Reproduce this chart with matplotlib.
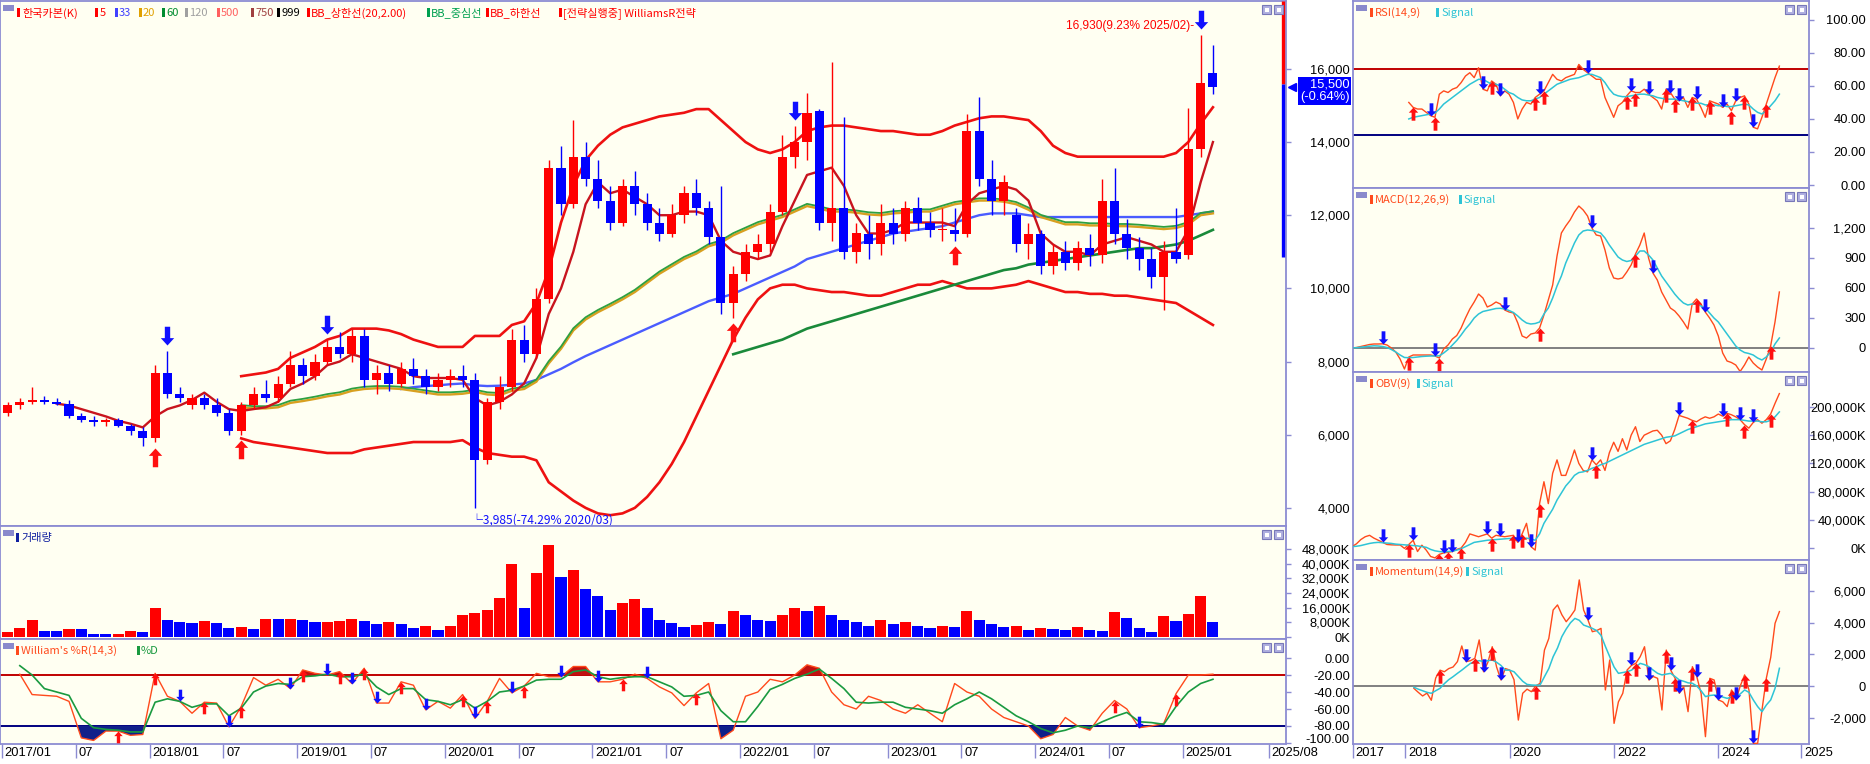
import matplotlib
matplotlib.use('Agg')
import matplotlib.pyplot as plt
import matplotlib.transforms as mtransforms
from matplotlib.patches import Rectangle
from matplotlib.path import Path
import numpy as np

# ---------------- data (monthly, first month 2017/01) ----------------
opens = [6600,6800,6900,6950,6900,6850,6500,6400,6350,6400,6250,6100,
         5900,7700,7100,6800,7000,6800,6600,6100,6800,7100,7000,7400,
         7900,7600,8000,8400,8200,8700,7500,7700,7400,7800,7600,7300,
         7500,7600,7500,5300,6900,7300,8600,8200,9700,13300,12300,13600,
         13000,12400,11800,12800,12300,11800,11500,12000,12600,12200,11400,9600,
         10400,11000,11200,12100,13600,14000,14850,11800,12200,11000,11500,11200,
         11800,11500,12200,11800,11600,11600,11500,14300,13000,12400,12000,11200,
         11500,10600,11000,10700,11100,10900,12400,11500,11100,10800,10300,11000,
         10900,13800,15900]
highs = [6900,7000,7300,7050,7000,6950,6600,6500,6450,6450,6300,6200,
         7900,8300,7300,7100,7100,7000,6700,6900,7300,7500,7600,8300,
         8100,8200,8600,8800,8900,8900,7900,7900,8000,8100,7800,7700,
         7800,7900,7700,7000,7600,8900,9000,10000,13500,13900,14600,14000,
         13500,12800,13000,13200,12600,12200,12300,12800,13000,12400,12800,10600,
         11200,11500,12300,14200,14450,15350,14900,16190,14690,11800,12000,12300,
         12200,12400,12500,12100,12200,12200,14770,15240,13500,13100,12200,11800,
         11600,11200,11300,11300,11500,13000,13300,11900,11400,11100,11300,12200,
         14940,16930,16650]
lows = [6500,6700,6850,6850,6800,6450,6350,6250,6250,6200,6000,5700,
        5800,7000,6900,6700,6700,6500,6000,6000,6700,6900,6900,7300,
        7400,7500,7900,8100,8000,7300,7100,7200,7300,7400,7100,7200,
        7300,7300,3985,5200,6700,7200,8000,8100,9600,12000,12200,12800,
        12200,11600,11700,12000,11600,11300,11400,11800,12000,11200,9300,9200,
        10200,10800,11000,12000,13300,13500,11600,11300,10800,10700,10800,10900,
        11200,11300,11600,11400,11300,11300,11400,12800,12000,12000,11000,10800,
        10400,10400,10500,10500,10600,10700,11200,10800,10500,10000,9400,10700,
        10800,13600,15300]
closes = [6800,6900,6950,6900,6850,6500,6400,6350,6400,6250,6100,5900,
          7700,7100,7000,7000,6800,6600,6100,6800,7100,7000,7400,7900,
          7600,8000,8400,8200,8700,7500,7700,7400,7800,7600,7300,7500,
          7600,7500,5300,6900,7300,8600,8200,9700,13300,12300,13600,13000,
          12400,11800,12800,12300,11800,11500,12000,12600,12200,11400,9600,10400,
          11000,11200,12100,13600,14000,14800,11800,12200,11000,11500,11200,11800,
          11500,12200,11800,11600,11600,11500,14300,13000,12400,12900,11200,11500,
          10600,11000,10700,11100,10900,12400,11500,11100,10800,10300,11000,10800,
          13800,15600,15500]
volume_k = [2900,5100,9450,3400,3270,4360,4300,1700,1600,1650,3450,2730,
            16000,9270,8180,7630,8720,7630,4900,5450,4360,9810,9700,9810,
            9500,8180,8300,8900,9810,8720,7090,8180,7000,4900,6000,3820,
            6000,12000,13100,14700,21300,39800,16000,35100,50200,32700,36500,26200,
            22400,14700,18500,20700,15800,9300,7600,5500,6500,8000,7000,14000,
            12000,9000,8500,12000,16000,14000,17000,12000,9000,8000,6000,9000,
            7000,8000,6000,5000,6000,5500,14000,9000,7000,5500,6000,4000,
            5000,4500,4000,5500,4000,3330,13630,10360,4910,2730,11450,8720,
            12540,22360,8180]

ma5_start = 4
ma5 = [6850,6800,6700,6600,6500,6380,6300,6200,6500,6700,
       6800,6950,7150,6900,6700,6650,6700,6750,6900,7250,
       7400,7600,7900,8000,8200,8100,8000,7900,7800,7600,
       7550,7550,7550,7500,7000,6800,6900,7100,7400,8100,
       9300,10000,11000,12300,12900,12600,12700,12500,12300,12000,
       12000,12100,12100,12000,11300,11000,10900,10800,10900,11700,
       12400,13100,13200,13300,12800,12000,11500,11500,11600,11800,
       11800,11800,11800,11700,12300,12600,12700,12800,12700,12400,
       11500,11200,11000,11000,10900,11200,11300,11400,11300,11200,
       11000,11000,11600,12900,14000]
bb_start = 19
bb_upper = [7600,7650,7700,7800,8100,8250,8400,8600,8700,8900,
            8900,8900,8850,8750,8600,8500,8400,8400,8400,8700,
            8700,8700,9000,9100,9600,
            10500,11800,12800,13500,13900,
            14200,14400,14500,14600,14700,
            14750,14800,14900,14900,14600,
            14300,14000,13800,13700,13800,
            14000,14300,14400,14450,14450,
            14400,14350,14300,14300,14250,
            14200,14200,14300,14450,14550,
            14650,14700,14700,14650,14600,
            14300,13900,13700,13600,13600,
            13600,13600,13600,13600,13600,
            13600,13700,14000,14500,14950]
bb_mid = [6750,6720,6720,6750,6870,6920,6980,7050,7100,7200,
          7250,7270,7270,7250,7200,7150,7100,7100,7120,7170,
          7100,7080,7200,7250,7450,7950,8350,8850,9150,9350,
          9520,9700,9900,10150,10400,10600,10800,10950,11150,11250,
          11450,11600,11750,11850,11950,12100,12250,12180,12100,12100,
          12070,12020,12000,12050,12070,12100,12100,12200,12300,12350,
          12400,12400,12370,12300,12150,11950,11850,11750,11750,11720,
          11720,11700,11700,11680,11650,11620,11650,11750,12000,12050]
bb_lower = [5900,5800,5750,5700,5650,5600,5550,5500,5500,5500,
            5600,5650,5700,5750,5800,5800,5800,5800,5850,5650,
            5500,5450,5400,5400,5300,4700,4450,4200,4000,3850,
            3800,3850,4000,4300,4700,5200,5800,6500,7200,7900,
            8600,9200,9700,10000,10100,10100,10000,9950,9900,9900,
            9850,9800,9800,9900,10000,10100,10100,10200,10100,10000,
            10000,10000,10050,10100,10200,10100,10000,9900,9900,9850,
            9850,9800,9800,9750,9700,9650,9600,9400,9200,9000]
ma33_start = 32
ma33 = [7250,7300,7330,7350,7380,7400,7350,7330,7340,7370,
        7400,7500,7650,7800,7980,8150,8300,8450,8600,8750,
        8900,9050,9200,9350,9500,9650,9750,9850,10000,10150,
        10300,10450,10600,10800,10900,11000,11100,11200,11300,11400,
        11500,11550,11600,11650,11700,11800,11900,12000,12050,12050,
        12050,12000,11950,11950,11950,11950,11950,11950,11950,11950,
        11950,11950,11950,11950,12000,12050,12100]
ma60_start = 59
ma60 = [8200,8300,8400,8500,8600,8750,8900,9000,9100,9200,
        9300,9400,9500,9600,9700,9800,9900,10000,10100,10200,
        10300,10400,10500,10550,10650,10700,10750,10800,10850,10900,
        10950,11000,11050,11100,11100,11150,11200,11300,11450,11600]

wr_start = 1
wr_r = [-19,-43,-44,-45,-51,-94,-97,-86,-86,-91,
        -90,-18,-45,-51,-65,-52,-53,-81,-57,-23,
        -32,-25,-36,-14,-18,-20,-16,-30,-12,-53,
        -53,-28,-32,-61,-51,-59,-43,-71,-51,-24,
        -41,-33,-18,-22,-22,-10,-10,-28,-28,-25,
        -19,-24,-34,-41,-56,-41,
        -30,-95,-85,-45,-40,-25,-28,-20,-8,-12,
        -40,-55,-60,-45,-50,-60,-65,-55,-65,-75,
        -30,-40,-45,-60,-70,-75,-80,-95,-90,-70,
        -80,-85,
        -65,-50,-60,-82,-80,-77,-42,-20,-20,-19]
wr_d = [-9,-20,-36,-40,-44,-71,-82,-84,-85,-87,
        -87,-52,-48,-51,-58,-54,-54,-68,-59,-40,
        -33,-30,-31,-22,-21,-19,-22,-22,-19,-34,
        -43,-36,-36,-49,-51,-55,-49,-59,-51,-40,
        -38,-33,-26,-25,-25,-16,-14,-22,-25,-23,
        -22,-22,-28,-34,-45,-44,
        -40,-62,-75,-75,-57,-37,-31,-24,-19,-13,
        -24,-36,-52,-53,-52,-52,-58,-60,-62,-65,
        -55,-48,-40,-48,-58,-68,-75,-83,-88,-85,
        -80,-82,
        -75,-69,-64,-75,-76,-78,-57,-40,-30,-25]

rsi_start = 13
rsi = [50,47,46,46,44,42,41,55,57,56,
       58,59,62,66,68,65,71,58,57,63,
       61,54,57,55,50,40,46,50,49,53,
       55,57,62,67,64,63,65,66,67,73,
       70,68,66,64,64,53,47,41,48,50,
       54,57,56,56,58,55,53,51,46,58,
       56,52,51,53,47,53,52,47,41,51,
       50,49,47,49,45,51,53,54,49,35,
       34,41,49,57,65,72]
rsi_sig = [40,41,41.5,42,42.5,43,43.5,46,49,51,
           53,55,57,59,61,62.5,64,64,62.5,61,
           61,60,58,56,55,53,51.5,51,51,52,
           53,55,57,59,61,62,63,64,64.5,65,
           66,67,67,66,65,62,58,55,54,53.5,
           53.5,54,54.5,55,55,54.5,54,53,52.5,52,
           52,52,51.5,51,50.5,50,49.5,49.5,48.5,48.5,
           48.5,48,48,47.5,47.5,48,48.5,49,48.5,46,
           44,43,45,48,51,55]

macd_start = 0
macd = [0,5,15,25,35,40,40,42,30,0,
        -40,-110,-210,-90,-70,-70,-70,-70,-70,-80,
        -100,-10,30,90,125,200,300,390,460,540,
        500,410,430,460,440,380,360,350,250,120,
        100,140,150,200,330,480,630,920,1150,1220,
        1280,1360,1420,1380,1320,1200,1130,1120,980,800,
        700,690,700,760,830,940,1030,1150,900,750,
        680,560,480,400,370,320,260,190,440,490,
        440,360,300,230,120,-50,-130,-145,-170,-235,
        -170,-90,-150,-190,-220,-110,20,260,560]
macd_sig = [0,3,8,13,18,22,20,15,5,-15,
            -40,-70,-95,-97,-95,-90,-85,-82,-80,-80,
            -78,-50,-15,30,75,130,190,240,300,340,
            365,375,385,395,397,390,375,355,320,280,
            250,240,245,260,340,400,500,620,720,850,
            950,1050,1130,1170,1180,1175,1165,1150,1100,1030,
            970,910,880,865,875,920,970,970,930,880,
            800,720,660,600,540,490,450,430,440,440,
            420,400,350,300,260,200,140,80,20,-20,
            -45,-55,-70,-100,-120,-90,-40,40,100]

obv_start = 0
obv_k = [2000,6000,12000,16000,18000,14000,11000,8000,5000,4500,
         4300,4300,-500,5000,11000,-5000,4000,-3000,-12000,-14000,
         -9000,-7000,-6000,-5000,-2000,0,8000,20000,18000,16000,
         18000,20000,14000,18000,17000,16000,17000,18000,8000,20000,
         35000,2000,-3000,63000,94000,63000,106000,125000,103000,103000,
         120000,139000,120000,110000,108000,125000,118000,125000,110000,135000,
         150000,137000,155000,139000,160000,172000,151000,160000,163000,166000,
         167000,160000,148000,152000,168000,188000,186000,184000,181000,179000,
         183000,186000,184000,186000,190000,187000,191000,189000,186000,182000,
         175000,170000,178000,182000,177000,182000,190000,205000,219000]
obv_sig_k = [2000,2500,3500,5000,6500,7500,8000,7500,7000,6500,
             5500,5000,4500,4000,3500,3000,2000,1000,-2000,-4000,
             -5000,-5500,-5000,-4500,-3000,-1000,2000,5000,8000,9000,
             10000,11000,11500,12000,12500,13000,13500,13500,13000,12500,
             14000,13000,11000,20000,35000,45000,55000,68000,78000,88000,
             95000,103000,107000,108000,110000,113000,115000,118000,120000,123000,
             126000,129000,132000,135000,138000,141000,144000,147000,149000,151000,
             153000,155000,157000,158000,159000,162000,165000,168000,170000,172000,
             174000,176000,177000,178000,179000,180000,181000,182000,182000,182000,
             181000,180000,180000,180000,179000,179000,181000,186000,193000]

mom_start = 14
mom = [-150,-400,-630,-450,-900,500,1000,900,1100,1200,
       1540,2530,1540,1600,1750,2910,900,1500,2480,1200,
       380,1100,1010,400,-2150,-460,-200,-360,0,170,
       2270,3000,4800,5120,4500,4060,4400,4800,6700,4800,
       4170,3430,3500,3640,-250,1640,-2360,-1000,-460,1010,
       1300,1430,1850,2480,380,600,485,-1515,2270,1010,
       500,-460,-40,-1620,1220,600,-460,-3200,485,380,
       -880,-1000,-1300,-250,-880,0,700,-250,-3620,-3620,
       -1500,500,1800,3960,4700]
mom_sig = [-80,-200,-300,-400,-460,-300,-146,150,400,590,
           800,1000,1220,1430,1540,1600,1550,1600,1640,1500,
           1300,1000,1000,900,600,300,100,64,50,64,
           590,1100,1850,2400,3120,3600,4000,4270,4150,3850,
           3750,3640,3500,3200,2500,1850,1200,800,850,905,
           1000,1200,1430,1350,1220,1000,800,700,750,800,
           600,380,300,200,170,0,-300,-670,-600,-570,
           -600,-700,-780,-700,-670,-500,-250,-400,-880,-1300,
           -1620,-1200,-880,-146,1120]

# signal arrow months
price_up_arrows = [12, 19, 59, 77]
price_down_arrows = [13, 26, 64, 97]
wr_up_arrows = [9, 12, 16, 19, 24, 27, 29, 32, 37, 39, 42, 50, 56, 90, 95]
wr_down_arrows = [14, 18, 23, 26, 28, 30, 34, 38, 41, 45, 48, 52, 92]
rsi_up_arrows = [14, 19, 32, 42, 44, 63, 65, 72, 74, 78, 82, 87, 90, 95]
rsi_down_arrows = [18, 30, 34, 43, 54, 64, 68, 73, 75, 79, 85, 88, 92]
macd_up_arrows = [13, 20, 43, 65, 79, 96]
macd_down_arrows = [7, 19, 35, 55, 69, 81]
obv_up_arrows = [13, 20, 22, 25, 32, 37, 39, 43, 56, 78, 86, 90, 96]
obv_down_arrows = [7, 14, 21, 23, 31, 34, 38, 41, 55, 75, 85, 89, 92]
mom_up_arrows = [20, 28, 32, 42, 63, 65, 72, 74, 78, 82, 87, 90, 95]
mom_down_arrows = [26, 30, 34, 54, 64, 68, 73, 75, 79, 84, 88, 92]

current_price = 15500
prev_close = 15600
side_bar_low = 10870
low_month, high_month = 38, 97

left_tick_months = [0, 6, 12, 18, 24, 30, 36, 42, 48, 54, 60, 66, 72, 78, 84, 90, 96, 103]
left_tick_labels = ['2017/01', '07', '2018/01', '07', '2019/01', '07', '2020/01', '07',
                    '2021/01', '07', '2022/01', '07', '2023/01', '07', '2024/01', '07',
                    '2025/01', '2025/08']
right_tick_months = [0, 12, 36, 60, 84, 103]
right_tick_labels = ['2017', '2018', '2020', '2022', '2024', '2025']

# ---------------- styling ----------------
plt.rcParams['font.family'] = ['Noto Sans CJK KR', 'DejaVu Sans']
plt.rcParams['axes.unicode_minus'] = False
W, H = 1870, 764
BG = '#fffff2'
FRAME = '#8c8cd2'
UP = '#ff0000'
DOWN = '#0000ff'
IND = '#ff4a1c'
SIG = '#2ec4d6'
NUMFONT = 'Liberation Sans'
HDR_FS = 8.0

fig = plt.figure(figsize=(W / 100, H / 100), dpi=100)
fig.patch.set_facecolor('white')


def add_ax(x0, y0, x1, y1):
    ax = fig.add_axes([x0 / W, 1 - y1 / H, (x1 - x0) / W, (y1 - y0) / H])
    ax.set_facecolor(BG)
    for s in ax.spines.values():
        s.set_color(FRAME)
        s.set_linewidth(1.3)
    ax.set_xticks([])
    return ax


def yaxis_right(ax, ticks, labels, label_right_px, ax_right_px, ticklen=5):
    ax.yaxis.tick_right()
    ax.set_yticks(ticks)
    ax.set_yticklabels(labels, fontfamily=NUMFONT, fontsize=9.3)
    pad_px = label_right_px - ax_right_px - ticklen
    ax.tick_params(axis='y', direction='out', length=ticklen * 0.72, width=1,
                   color=FRAME, pad=pad_px * 0.72)
    for t in ax.get_yticklabels():
        t.set_ha('right')


def fig_rect(x, y, w, h, **kw):
    fig.patches.append(Rectangle((x / W, 1 - (y + h) / H), w / W, h / H,
                                 transform=fig.transFigure, **kw))


def panel_header(x0, y0, x1, items):
    fig_rect(x0 + 3, y0 + 4, 11, 6, facecolor='#8a8acc', edgecolor='none')
    for mx, tx, txt, c in items:
        fig_rect(mx, y0 + 7, 3, 9, facecolor=c, edgecolor='none')
        fig.text(tx / W, 1 - (y0 + 12) / H, txt, color=c, fontsize=HDR_FS,
                 va='center', ha='left')
    for dx in (24, 12):
        fig_rect(x1 - dx, y0 + 4, 9, 9, facecolor='#b0b0e0', edgecolor='#7878b8', lw=0.8)
        fig_rect(x1 - dx + 2.5, y0 + 6.5, 4, 4, facecolor='white', edgecolor='none')


up_path = Path([(0, 0), (-0.5, -0.55), (-0.2, -0.55), (-0.2, -1.4), (0.2, -1.4),
                (0.2, -0.55), (0.5, -0.55), (0, 0)],
               [Path.MOVETO] + [Path.LINETO] * 6 + [Path.CLOSEPOLY])
down_path = Path([(0, 0), (-0.5, 0.55), (-0.2, 0.55), (-0.2, 1.4), (0.2, 1.4),
                  (0.2, 0.55), (0.5, 0.55), (0, 0)],
                 [Path.MOVETO] + [Path.LINETO] * 6 + [Path.CLOSEPOLY])


def series_x(start, vals):
    return np.arange(start, start + len(vals))


def draw_arrows(ax, start, vals, ups, downs, ms=19):
    v = np.asarray(vals, float)
    ux = [m for m in ups if start <= m < start + len(v)]
    dx = [m for m in downs if start <= m < start + len(v)]
    ax.plot(ux, [v[m - start] for m in ux], linestyle='none', marker=up_path,
            ms=ms, color='#ff1010', mec='none', zorder=6)
    ax.plot(dx, [v[m - start] for m in dx], linestyle='none', marker=down_path,
            ms=ms, color='#1010ff', mec='none', zorder=6)


o = np.array(opens, float)
h = np.array(highs, float)
l = np.array(lows, float)
c = np.array(closes, float)
xm = np.arange(len(c))
is_up = c >= o
colors = np.where(is_up, UP, DOWN)
vol = np.array(volume_k, float)
vol_up = np.concatenate([[True], vol[1:] >= vol[:-1]])
vol_colors = np.where(vol_up, UP, DOWN)
LEFT_XLIM = (-0.61, 103.94)
RIGHT_XLIM = (0.2, 104.8)

# ---------------- main price panel ----------------
ax = add_ax(0, 1, 1286, 526)
ax.set_xlim(*LEFT_XLIM)
ax.set_ylim(3505, 17855)
yaxis_right(ax, [4000, 6000, 8000, 10000, 12000, 14000, 16000],
            ['4,000', '6,000', '8,000', '10,000', '12,000', '14,000', '16,000'], 1350, 1286)

ax.plot(series_x(bb_start, bb_upper), bb_upper, color='#ee1111', lw=1.9, zorder=3)
ax.plot(series_x(bb_start, bb_lower), bb_lower, color='#ee1111', lw=1.9, zorder=3)
ax.plot(series_x(ma33_start, ma33), ma33, color='#4a5cff', lw=1.7, zorder=3)
ax.plot(series_x(bb_start, bb_mid), bb_mid, color='#d8a020', lw=1.7, zorder=3)
ax.plot(series_x(bb_start, bb_mid), np.array(bb_mid) + 60, color='#2ea040', lw=1.3, zorder=3)
ax.plot(series_x(ma60_start, ma60), ma60, color='#1a8a3a', lw=1.9, zorder=3)
ax.plot(series_x(ma5_start, ma5), ma5, color='#c8141e', lw=1.7, zorder=4)

ax.vlines(xm, l, h, colors=colors, lw=1.0, zorder=5)
body_h = np.maximum(np.abs(c - o), 30)
ax.bar(xm, body_h, bottom=np.minimum(o, c), width=0.74, color=colors, linewidth=0, zorder=5)

ax.plot(price_up_arrows, [lows[m] - 150 for m in price_up_arrows], linestyle='none',
        marker=up_path, ms=27, color='#ff1010', mec='none', zorder=7)
ax.plot(price_down_arrows, [highs[m] + 150 for m in price_down_arrows], linestyle='none',
        marker=down_path, ms=27, color='#1010ff', mec='none', zorder=7)

ax.text(high_month - 0.55, highs[high_month] + 250,
        f"{highs[high_month]:,}({(highs[high_month] / current_price - 1) * 100:.2f}% 2025/02)-",
        color='#ff0000', fontsize=8.6, ha='right', va='center', fontfamily=NUMFONT)
ax.text(low_month - 0.3, lows[low_month] - 330,
        f"└{lows[low_month]:,}({(lows[low_month] / current_price - 1) * 100:.2f}% 2020/03)",
        color='#1010ff', fontsize=8.6, ha='left', va='center')

# current price side bar and label
bt = mtransforms.blended_transform_factory(ax.transAxes, ax.transData)
ax.plot([0.998, 0.998], [prev_close, ax.get_ylim()[1]], transform=bt, color='#ff0000',
        lw=2.4, clip_on=False, zorder=8, solid_capstyle='butt')
ax.plot([0.998, 0.998], [side_bar_low, prev_close], transform=bt, color='#0000ff',
        lw=2.4, clip_on=False, zorder=8, solid_capstyle='butt')
ax.plot([1.0045], [current_price], transform=bt, marker='<', ms=6, color='#0000ff',
        clip_on=False, zorder=8)
ax.text(1.0495, 15730, f"{current_price:,}\n(-0.64%)", transform=bt, color='white',
        fontsize=9.3, ha='right', va='top', fontfamily=NUMFONT, linespacing=1.05,
        bbox=dict(boxstyle='square,pad=0.12', facecolor='#0000ff', edgecolor='none'))

panel_header(0, 1, 1286, [
    (17, 22, '한국카본(K)', '#ff0000'), (95, 100, '5', '#ff0000'),
    (115, 119, '33', '#4040ff'), (139, 143, '20', '#e0a000'),
    (162, 166, '60', '#008c30'), (185, 189, '120', '#a0a0a0'),
    (217, 221, '500', '#ff6060'), (251, 255, '750', '#a04040'),
    (277, 281, '999', '#000000'), (307, 311, 'BB_상한선(20,2.00)', '#ff0000'),
    (427, 431, 'BB_중심선', '#00a050'), (486, 490, 'BB_하한선', '#ff0000'),
    (559, 563, '[전략실행중] WilliamsR전략', '#ff0000')])

# ---------------- volume panel ----------------
axv = add_ax(0, 526, 1286, 639)
axv.set_xlim(*LEFT_XLIM)
axv.set_ylim(-1090, 60500)
axv.bar(xm, vol, width=0.9, color=vol_colors, linewidth=0)
yaxis_right(axv, [0, 8000, 16000, 24000, 32000, 40000, 48000],
            ['0K', '8,000K', '16,000K', '24,000K', '32,000K', '40,000K', '48,000K'], 1350, 1286)
panel_header(0, 526, 1286, [(16, 21, '거래량', '#1020a0')])

# ---------------- Williams %R panel ----------------
axw = add_ax(0, 639, 1286, 744)
axw.set_xlim(*LEFT_XLIM)
axw.set_ylim(-101.2, 22.4)
xr = series_x(wr_start, wr_r)
r = np.array(wr_r, float)
axw.axhline(-20, color='#c00000', lw=1.4, zorder=2)
axw.axhline(-80, color='#000080', lw=1.4, zorder=2)
axw.fill_between(xr, r, -20, where=r > -20, interpolate=True, color='#c01010', lw=0, zorder=3)
axw.fill_between(xr, r, -80, where=r < -80, interpolate=True, color='#10208a', lw=0, zorder=3)
axw.plot(xr, r, color=IND, lw=1.0, zorder=4)
axw.plot(series_x(wr_start, wr_d), wr_d, color='#1a9a40', lw=1.2, zorder=4)
draw_arrows(axw, wr_start, wr_r, wr_up_arrows, wr_down_arrows, ms=17)
yaxis_right(axw, [-100, -80, -60, -40, -20, 0],
            ['-100.00', '-80.00', '-60.00', '-40.00', '-20.00', '0.00'], 1350, 1286)
up3 = mtransforms.ScaledTranslation(0, 3 / 72, fig.dpi_scale_trans)
lab100 = axw.get_yticklabels()[0]
lab100.set_transform(lab100.get_transform() + up3)
axw.set_xticks([m - 0.447 for m in left_tick_months])
axw.set_xticklabels(left_tick_labels, fontfamily=NUMFONT, fontsize=9.3)
axw.tick_params(axis='x', direction='out', length=10, width=1, color=FRAME, pad=-8)
off = mtransforms.ScaledTranslation(2 / 72, 0, fig.dpi_scale_trans)
for t in axw.get_xticklabels():
    t.set_ha('left')
    t.set_transform(t.get_transform() + off)
panel_header(0, 639, 1286, [(16, 21, "William's %R(14,3)", IND), (137, 141, '%D', '#1a9a40')])

# ---------------- right panels ----------------
RX0, RX1 = 1353, 1809


def right_panel(y0, y1, start_a, a, start_b, b, ylim, ticks, labels, header, hlines=()):
    axr = add_ax(RX0, y0, RX1, y1)
    axr.set_xlim(*RIGHT_XLIM)
    axr.set_ylim(*ylim)
    for yv, col in hlines:
        axr.axhline(yv, color=col, lw=1.4, zorder=2)
    axr.plot(series_x(start_a, a), a, color=IND, lw=1.0, zorder=4)
    axr.plot(series_x(start_b, b), b, color=SIG, lw=1.1, zorder=4)
    yaxis_right(axr, ticks, labels, 1866, RX1)
    panel_header(RX0, y0, RX1, header)
    return axr


axr1 = right_panel(1, 188, rsi_start, rsi, rsi_start, rsi_sig, (-1.8, 111.4),
                   [0, 20, 40, 60, 80, 100], ['0.00', '20.00', '40.00', '60.00', '80.00', '100.00'],
                   [(1370, 1375, 'RSI(14,9)', IND), (1436, 1441, 'Signal', SIG)],
                   hlines=[(70, '#c00000'), (30, '#000080')])
rv = np.array(rsi, float)
rx = series_x(rsi_start, rsi)
axr1.fill_between(rx, rv, 70, where=rv > 70, interpolate=True, color='#c01010', lw=0, zorder=3)
draw_arrows(axr1, rsi_start, rsi, rsi_up_arrows, rsi_down_arrows)

axr2 = right_panel(188, 372, macd_start, macd, macd_start, macd_sig, (-240, 1600),
                   [0, 300, 600, 900, 1200], ['0', '300', '600', '900', '1,200'],
                   [(1370, 1375, 'MACD(12,26,9)', IND), (1459, 1464, 'Signal', SIG)],
                   hlines=[(0, '#808080')])
draw_arrows(axr2, macd_start, macd, macd_up_arrows, macd_down_arrows)

axr3 = right_panel(372, 560, obv_start, obv_k, obv_start, obv_sig_k, (-17000, 249600),
                   [0, 40000, 80000, 120000, 160000, 200000],
                   ['0K', '40,000K', '80,000K', '120,000K', '160,000K', '200,000K'],
                   [(1370, 1375, 'OBV(9)', IND), (1417, 1422, 'Signal', SIG)])
draw_arrows(axr3, obv_start, obv_k, obv_up_arrows, obv_down_arrows)

axr4 = right_panel(560, 744, mom_start, mom, mom_start, mom_sig, (-3663, 7958),
                   [-2000, 0, 2000, 4000, 6000], ['-2,000', '0', '2,000', '4,000', '6,000'],
                   [(1370, 1375, 'Momentum(14,9)', IND), (1466, 1471, 'Signal', SIG)],
                   hlines=[(0, '#808080')])
draw_arrows(axr4, mom_start, mom, mom_up_arrows, mom_down_arrows)
axr4.set_xticks(right_tick_months)
axr4.set_xticklabels(right_tick_labels, fontfamily=NUMFONT, fontsize=9.3)
axr4.tick_params(axis='x', direction='out', length=10, width=1, color=FRAME, pad=-8)
for t in axr4.get_xticklabels():
    t.set_ha('left')
    t.set_transform(t.get_transform() + off)

fig.savefig('out.png', dpi=100, facecolor='white')
